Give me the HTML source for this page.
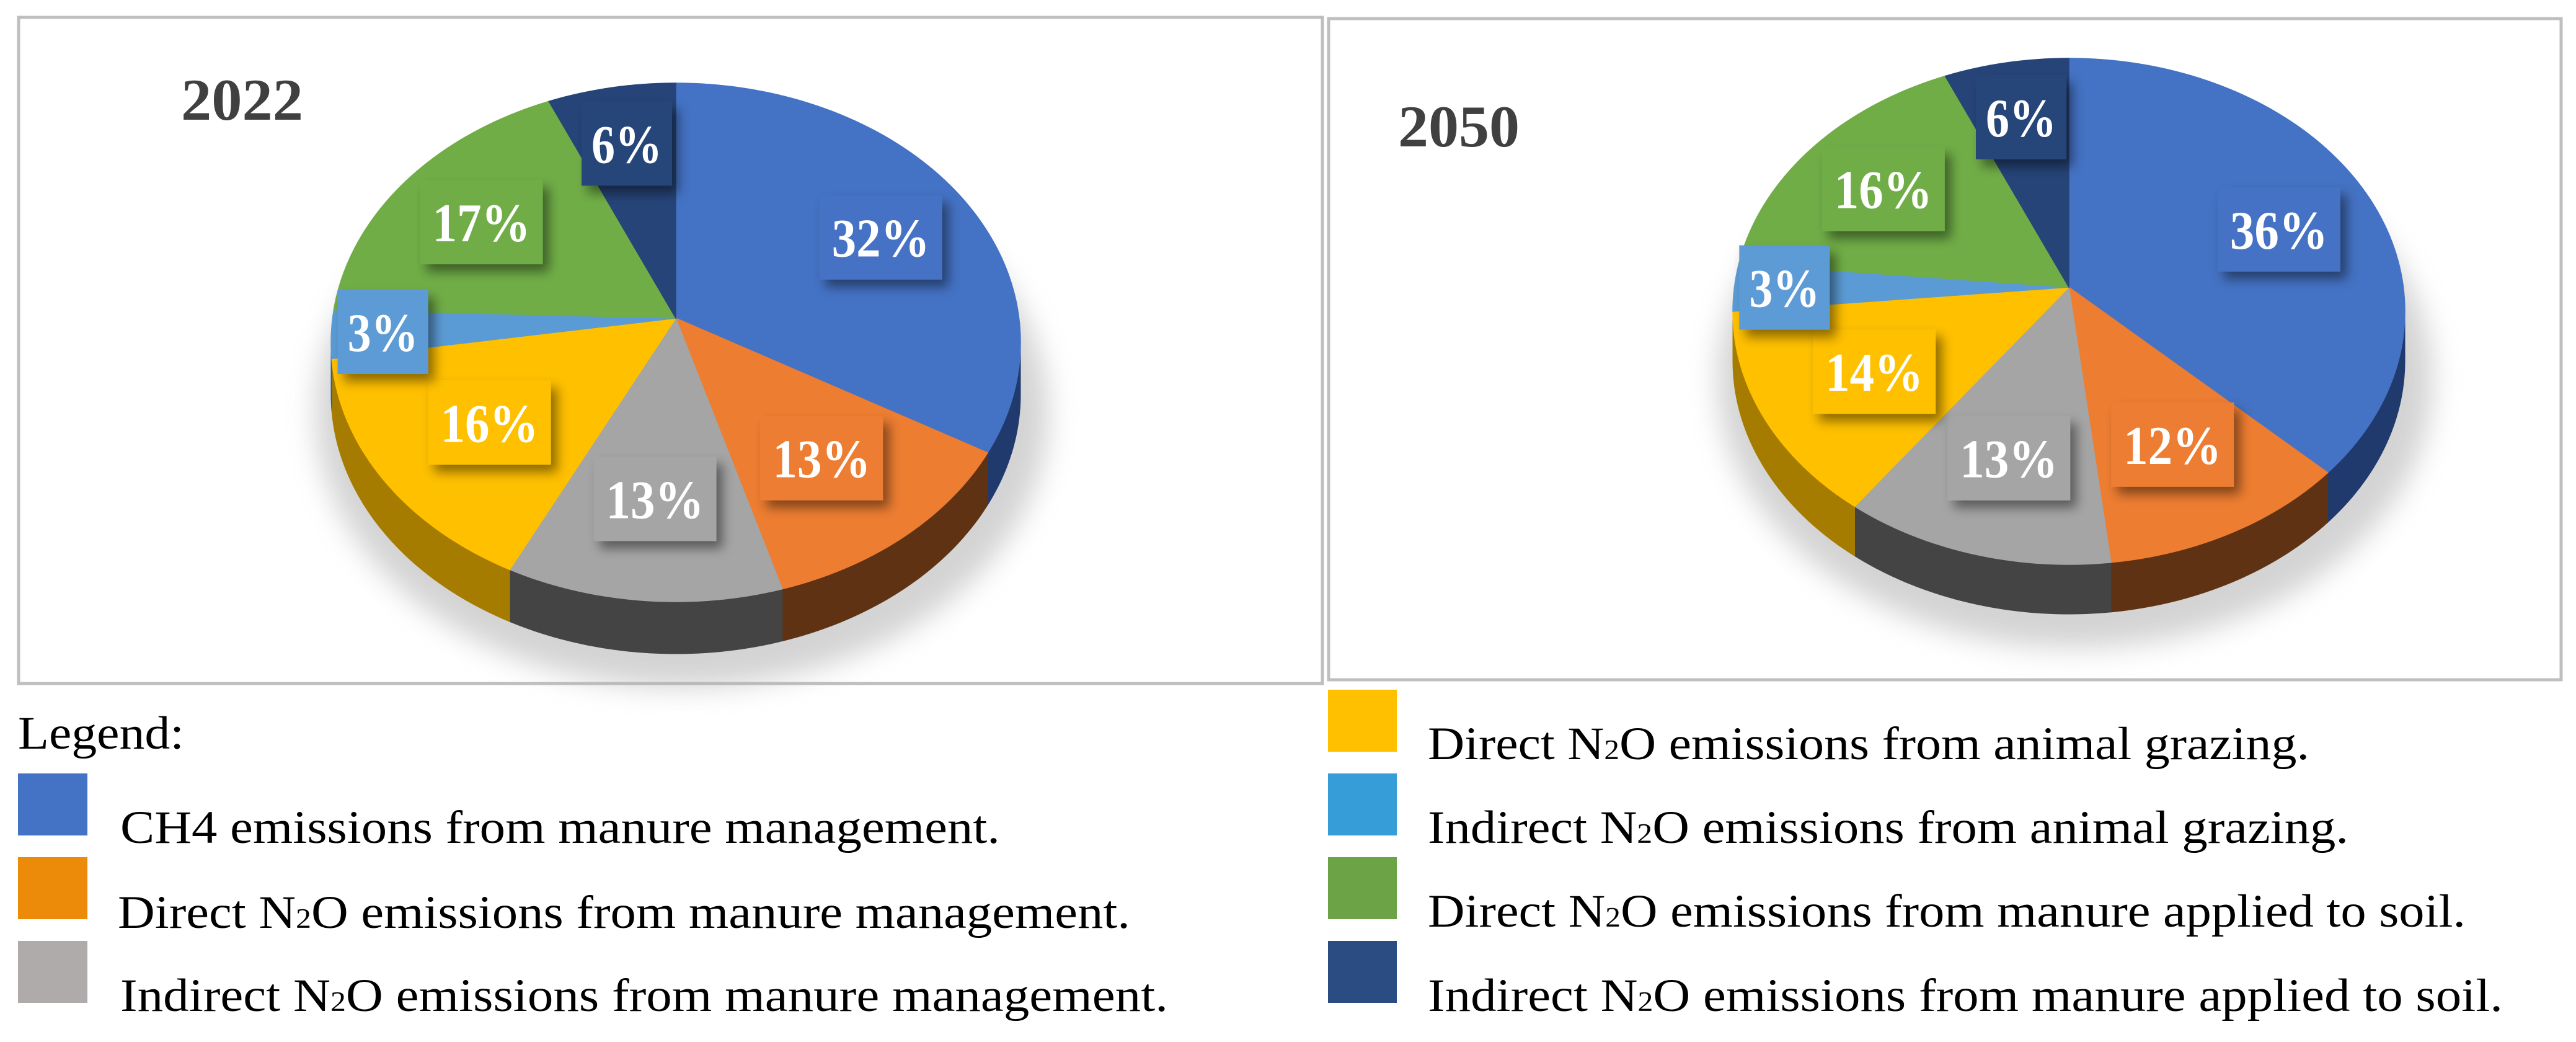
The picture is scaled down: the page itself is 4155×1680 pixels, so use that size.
<!DOCTYPE html>
<html><head><meta charset="utf-8">
<style>
html,body{margin:0;padding:0;background:#fff;}
svg{display:block;}
.lg{font-family:"Liberation Serif",serif;font-size:75px;fill:#000;}
</style></head>
<body>
<svg id="chart" width="4155" height="1680" viewBox="0 0 4155 1680" xmlns="http://www.w3.org/2000/svg">
<defs>
<filter id="blur" x="-30%" y="-30%" width="160%" height="160%"><feGaussianBlur stdDeviation="22"/></filter>
<filter id="lblsh" x="-30%" y="-30%" width="160%" height="160%"><feDropShadow dx="10" dy="12" stdDeviation="9" flood-color="#000" flood-opacity="0.45"/></filter>
</defs>
<rect x="30" y="28" width="2103" height="1074" fill="#fff" stroke="#bfbfbf" stroke-width="5"/>
<rect x="2143" y="30" width="1988" height="1066" fill="#fff" stroke="#bfbfbf" stroke-width="5"/>
<text x="292" y="193" font-family="Liberation Serif,serif" font-weight="bold" font-size="95" fill="#404040" textLength="197" lengthAdjust="spacingAndGlyphs">2022</text>
<text x="2255" y="236" font-family="Liberation Serif,serif" font-weight="bold" font-size="95" fill="#404040" textLength="196" lengthAdjust="spacingAndGlyphs">2050</text>
<g id="pies"></g>
<g id="legend">
<text class="lg" x="29" y="1207" textLength="268" lengthAdjust="spacingAndGlyphs">Legend:</text>
<rect x="29" y="1247" width="112" height="100" fill="#4472C4"/>
<text class="lg" x="194" y="1359" textLength="1419" lengthAdjust="spacingAndGlyphs">CH4 emissions from manure management.</text>
<rect x="29" y="1382" width="112" height="100" fill="#EC8A0A"/>
<text class="lg" x="190" y="1496" textLength="1633" lengthAdjust="spacingAndGlyphs">Direct N<tspan font-size="45">2</tspan>O emissions from manure management.</text>
<rect x="29" y="1517" width="112" height="100" fill="#AFABAB"/>
<text class="lg" x="194" y="1630" textLength="1690" lengthAdjust="spacingAndGlyphs">Indirect N<tspan font-size="45">2</tspan>O emissions from manure management.</text>
<rect x="2142" y="1112" width="111" height="100" fill="#FFC000"/>
<text class="lg" x="2303" y="1224" textLength="1422" lengthAdjust="spacingAndGlyphs">Direct N<tspan font-size="45">2</tspan>O emissions from animal grazing.</text>
<rect x="2142" y="1247" width="111" height="100" fill="#379DD8"/>
<text class="lg" x="2303" y="1359" textLength="1485" lengthAdjust="spacingAndGlyphs">Indirect N<tspan font-size="45">2</tspan>O emissions from animal grazing.</text>
<rect x="2142" y="1382" width="111" height="100" fill="#6BA346"/>
<text class="lg" x="2303" y="1494" textLength="1674" lengthAdjust="spacingAndGlyphs">Direct N<tspan font-size="45">2</tspan>O emissions from manure applied to soil.</text>
<rect x="2142" y="1517" width="111" height="100" fill="#2B4C82"/>
<text class="lg" x="2303" y="1630" textLength="1734" lengthAdjust="spacingAndGlyphs">Indirect N<tspan font-size="45">2</tspan>O emissions from manure applied to soil.</text>
</g>
</svg>
<script>
const categories = ["ch4-manure","direct-n2o-manure","indirect-n2o-manure","direct-n2o-grazing","indirect-n2o-grazing","direct-n2o-soil","indirect-n2o-soil"];
const values2022 = [32, 13, 13, 16, 3, 17, 6];
const values2050 = [36, 12, 13, 14, 3, 16, 6];
const labels2022 = ["32%","13%","13%","16%","3%","17%","6%"];
const labels2050 = ["36%","12%","13%","14%","3%","16%","6%"];
const topColors = ["#4472C4","#ED7D31","#A5A5A5","#FFC000","#5B9BD5","#70AD47","#264478"];
const sideColors = ["#203A6E","#5E3212","#444444","#A67C00","#2E5E8C","#3E6428","#14264A"];

const NS = "http://www.w3.org/2000/svg";
const root = document.getElementById("pies");
function mk(tag, attrs, parent){
  const e = document.createElementNS(NS, tag);
  for (const k in attrs) e.setAttribute(k, attrs[k]);
  parent.appendChild(e);
  return e;
}
function drawPie(cfg, vals, labs, year){
  const g = document.createElementNS(NS, "g");
  
  
  root.appendChild(g);
  const total = vals.reduce((a,b)=>a+b,0);
  const pt = (t, dy) => [cfg.cx + cfg.rx*Math.sin(t), cfg.ecy - cfg.ry*Math.cos(t) + (dy||0)];
  const sh = mk("ellipse", {cx: cfg.cx+10, cy: cfg.ecy+cfg.depth+30, rx: cfg.rx+35, ry: cfg.ry+25, fill:"#b0b0b0", opacity:"0.55", filter:"url(#blur)"}, g);
  
  
  let cum = 0;
  const angles = vals.map(v => { const a0 = cum/total*2*Math.PI; cum += v; return [a0, cum/total*2*Math.PI]; });
  angles.forEach(([a0,a1], i) => {
    const s = Math.max(a0, Math.PI/2), e = Math.min(a1, 3*Math.PI/2);
    if (e <= s) return;
    const pts = [];
    const n = 40;
    for (let k=0;k<=n;k++){ pts.push(pt(s+(e-s)*k/n)); }
    for (let k=n;k>=0;k--){ pts.push(pt(s+(e-s)*k/n, cfg.depth)); }
    const p = mk("polygon", {points: pts.map(q=>q.join(",")).join(" "), fill: sideColors[i], stroke: sideColors[i], "stroke-width":"1"}, g);
    
    
  });
  angles.forEach(([a0,a1], i) => {
    const pts = [[cfg.cx, cfg.apy]];
    const n = Math.max(4, Math.ceil((a1-a0)*40));
    for (let k=0;k<=n;k++) pts.push(pt(a0+(a1-a0)*k/n));
    const p = mk("polygon", {points: pts.map(q=>q.join(",")).join(" "), fill: topColors[i], stroke: topColors[i], "stroke-width":"1.5"}, g);
    
    
  });
  angles.forEach(([a0,a1], i) => {
    const m = (a0+a1)/2;
    const f = vals[i] < 5 ? 0.85 : 0.64 + 0.12*Math.max(0, Math.cos(m));
    const b = pt(m);
    const x = cfg.cx + (b[0]-cfg.cx)*f, y = cfg.apy + (b[1]-cfg.apy)*f;
    const w = labs[i].length > 2 ? 198 : 146, h = 136;
    const r = mk("rect", {x: x-w/2, y: y-h/2, width: w, height: h, fill: topColors[i], filter:"url(#lblsh)"}, g);
    
    
    const t = mk("text", {x: x, y: y+31, "text-anchor":"middle", fill:"#fff", "font-family":"Liberation Serif,serif", "font-weight":"bold", "font-size":"88", textLength: labs[i].length>2 ? 158 : 114, lengthAdjust:"spacingAndGlyphs"}, g);
    t.textContent = labs[i];
    
    
  });
}
drawPie({cx:1090, apy:513, ecy:552, rx:556, ry:418, depth:84}, values2022, labels2022, "2022");
drawPie({cx:3337, apy:463, ecy:502, rx:542, ry:408, depth:80}, values2050, labels2050, "2050");
</script>
</body></html>
